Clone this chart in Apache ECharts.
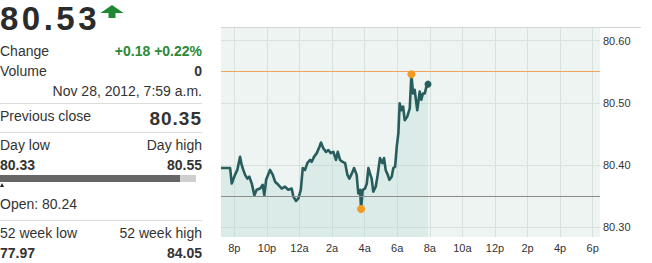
<!DOCTYPE html>
<html>
<head>
<meta charset="utf-8">
<script src="https://cdn.jsdelivr.net/npm/echarts@6/dist/echarts.min.js"></script>
<style>
  html, body { margin: 0; padding: 0; background: #fff; }
  body { width: 652px; height: 263px; position: relative; overflow: hidden; font-family: "Liberation Sans", Arial, sans-serif; color: #333; }
  #chart { position: absolute; left: 0; top: 0; width: 652px; height: 263px; }
  #panel { position: absolute; left: 0; top: 0; width: 202px; height: 263px; z-index: 2; }
  .t { position: absolute; white-space: nowrap; font-size: 14px; line-height: 16px; }
  .l { left: 0; }
  .r { right: 0; text-align: right; }
  .b { font-weight: bold; }
  .sep { position: absolute; left: 0; width: 202px; height: 1px; background: #dcdcdc; }
  #topline { position: absolute; left: 221px; top: 27px; width: 420px; height: 1px; background: #d4d4d4; z-index: 1; }
</style>
</head>
<body>
<div id="chart"></div>
<div id="topline"></div>
<div id="panel">
  <div class="t l b" style="top:0px;font-size:33px;line-height:37px;letter-spacing:3.5px;color:#2b2b2b;">80.53</div>
  <svg style="position:absolute;left:100px;top:5px;" width="24" height="13" viewBox="0 0 24 13">
    <path d="M12 0 L23.5 8 L15.5 8 L15.5 13 L8.5 13 L8.5 8 L0.5 8 Z" fill="#1f8a33"/>
  </svg>
  <div class="t l" style="top:43px;">Change</div>
  <div class="t r b" style="top:43px;color:#2a8a35;">+0.18 +0.22%</div>
  <div class="t l" style="top:63px;">Volume</div>
  <div class="t r b" style="top:63px;">0</div>
  <div class="t r" style="top:83px;">Nov 28, 2012, 7:59 a.m.</div>
  <div class="sep" style="top:103px;"></div>
  <div class="t l" style="top:108px;">Previous close</div>
  <div class="t r b" style="top:109px;font-size:19px;line-height:20px;letter-spacing:1px;">80.35</div>
  <div class="sep" style="top:132px;"></div>
  <div class="t l" style="top:137px;">Day low</div>
  <div class="t r" style="top:137px;">Day high</div>
  <div class="t l b" style="top:157px;">80.33</div>
  <div class="t r b" style="top:157px;">80.55</div>
  <div style="position:absolute;left:0;top:175px;width:180px;height:7px;background:#666;"></div>
  <div style="position:absolute;left:180px;top:175px;width:16px;height:7px;background:#cfcfcf;"></div>
  <div style="position:absolute;left:0;top:183px;width:0;height:0;border-left:2px solid transparent;border-right:2px solid transparent;border-bottom:4px solid #222;"></div>
  <div class="t l" style="top:196px;">Open: 80.24</div>
  <div class="sep" style="top:220px;"></div>
  <div class="t l" style="top:225px;">52 week low</div>
  <div class="t r" style="top:225px;">52 week high</div>
  <div class="t l b" style="top:245px;">77.97</div>
  <div class="t r b" style="top:245px;">84.05</div>
</div>
<script>
// Hours after 8 p.m. (Nov 27) and last-trade prices
const hours = [-0.82,-0.26,-0.16,0.04,0.18,0.35,0.45,0.55,0.66,0.80,
  0.92,1.07,1.23,1.37,1.58,1.74,1.84,1.95,2.19,2.36,
  2.50,2.70,2.91,3.11,3.31,3.52,3.62,3.79,3.93,4.08,
  4.20,4.34,4.48,4.65,4.75,4.89,5.06,5.22,5.32,5.46,
  5.63,5.77,5.92,6.08,6.24,6.35,6.49,6.65,6.80,6.94,
  7.06,7.21,7.35,7.51,7.61,7.72,7.78,7.88,8.02,8.13,
  8.23,8.33,8.43,8.53,8.68,8.80,8.94,9.09,9.19,9.29,
  9.42,9.52,9.66,9.76,9.87,9.97,10.07,10.15,10.25,10.36,
  10.46,10.62,10.77,10.87,10.97,11.07,11.23,11.38,11.48,11.58,
  11.69,11.79,11.89];
const prices = [80.395,80.395,80.370,80.384,80.392,80.413,80.400,80.392,80.384,80.378,
  80.381,80.370,80.351,80.360,80.362,80.368,80.351,80.376,80.392,80.384,
  80.373,80.368,80.362,80.365,80.360,80.362,80.349,80.342,80.346,80.360,
  80.395,80.392,80.403,80.408,80.405,80.413,80.419,80.429,80.436,80.427,
  80.421,80.424,80.419,80.421,80.408,80.421,80.408,80.405,80.403,80.384,
  80.378,80.386,80.395,80.384,80.354,80.360,80.329,80.360,80.362,80.370,
  80.395,80.386,80.378,80.357,80.365,80.384,80.411,80.403,80.411,80.392,
  80.384,80.376,80.381,80.395,80.397,80.429,80.451,80.499,80.488,80.494,
  80.472,80.478,80.491,80.546,80.515,80.521,80.488,80.518,80.505,80.515,
  80.515,80.526,80.530];
const xTickValues = [0,2,4,6,8,10,12,14,16,18,20,22];
const xTickLabels = ['8p','10p','12a','2a','4a','6a','8a','10a','12p','2p','4p','6p'];
const yTickValues = [80.30,80.40,80.50,80.60];
const prevClose = 80.351;

const lineData = hours.map((h, i) => [h, prices[i]]);
let hiI = 0, loI = 0;
prices.forEach((p, i) => { if (p > prices[hiI]) hiI = i; if (p < prices[loI]) loI = i; });
const dayHighVal = prices[hiI];
const extremes = [[hours[hiI], prices[hiI]], [hours[loI], prices[loI]]];
const lastPt = [[hours[hours.length - 1], prices[prices.length - 1]]];

const chart = echarts.init(document.getElementById('chart'), null, { renderer: 'svg' });
const gridColor = '#d9e1dd';
chart.setOption({
  animation: false,
  grid: { left: 221, right: 52, top: 27, bottom: 26, show: true, backgroundColor: '#eef4f1', borderWidth: 0 },
  xAxis: {
    type: 'value', min: -0.82, max: 22.45,
    axisLine: { show: false },
    axisTick: { show: false, customValues: xTickValues },
    axisLabel: {
      customValues: xTickValues, margin: 5, color: '#333', fontSize: 11,
      fontFamily: 'Liberation Sans, Arial, sans-serif',
      formatter: v => xTickLabels[xTickValues.indexOf(Math.round(v))]
    },
    splitLine: { show: true, lineStyle: { color: gridColor, width: 1 } }
  },
  yAxis: {
    type: 'value', position: 'right', min: 80.284, max: 80.622,
    axisLine: { show: false },
    axisTick: { show: false, customValues: yTickValues },
    axisLabel: {
      customValues: yTickValues, margin: 3, color: '#333', fontSize: 11,
      fontFamily: 'Liberation Sans, Arial, sans-serif',
      formatter: v => v.toFixed(2)
    },
    splitLine: { show: true, lineStyle: { color: gridColor, width: 1 } }
  },
  series: [
    {
      type: 'line', data: lineData, showSymbol: false, symbol: 'none',
      lineStyle: { color: '#285d5d', width: 2.6, join: 'round' },
      areaStyle: { color: 'rgba(170,214,211,0.42)', origin: 'start' },
      z: 3,
      markLine: {
        silent: true, symbol: 'none', label: { show: false },
        lineStyle: { color: '#8c8c8c', width: 1, type: 'solid', opacity: 1 },
        data: [ { yAxis: prevClose } ]
      }
    },
    {
      type: 'line', data: [], z: 2,
      markLine: {
        silent: true, symbol: 'none', label: { show: false },
        lineStyle: { color: '#f0a45c', width: 1, type: 'solid', opacity: 1 },
        data: [ { yAxis: dayHighVal } ]
      }
    },
    {
      type: 'scatter', data: extremes, symbolSize: 8, z: 5,
      itemStyle: { color: '#f39a25', opacity: 1, borderWidth: 0 }
    },
    {
      type: 'scatter', data: lastPt, symbolSize: 7, z: 5,
      itemStyle: { color: '#285d5d', opacity: 1, borderWidth: 0 }
    }
  ]
});
</script>
</body>
</html>
